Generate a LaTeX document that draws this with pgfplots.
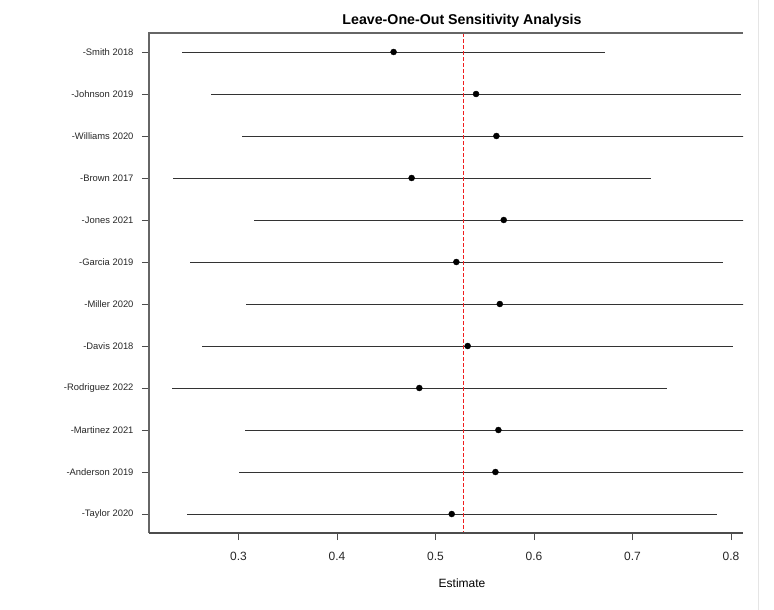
\documentclass[border=0pt]{standalone}
\usepackage{pgfplots}
\pgfplotsset{compat=1.18}
\usepackage{pgfplotstable}
\usepackage{fontspec}
\setmainfont{Liberation Sans}
\definecolor{refred}{RGB}{240,30,30}

\pgfplotstableread{
row est lo hi
1 0.4575 0.2425 0.6724
2 0.5412 0.2720 0.8104
3 0.5619 0.3035 0.8203
4 0.4758 0.2333 0.7184
5 0.5693 0.3160 0.8226
6 0.5212 0.2506 0.7923
7 0.5653 0.3075 0.8231
8 0.5327 0.2634 0.8021
9 0.4836 0.2326 0.7353
10 0.5639 0.3068 0.8210
11 0.5609 0.3004 0.8214
12 0.5165 0.2476 0.7855
}\loo

\begin{document}
\begin{tikzpicture}
\useasboundingbox (-149bp,-77bp) rectangle (625bp,533bp);
\begin{axis}[
  at={(0,0)}, anchor=south west,
  scale only axis, width=594bp, height=500bp,
  xmin=0.2092, xmax=0.8122, ymin=0.548, ymax=12.452, y dir=reverse,
  axis line style={draw=none},
  xtick={0.3,0.4,0.5,0.6,0.7,0.8},
  xticklabels={0.3,0.4,0.5,0.6,0.7,0.8},
  ytick={1,...,12},
  yticklabels={-Smith 2018,-Johnson 2019,-Williams 2020,-Brown 2017,-Jones 2021,-Garcia 2019,-Miller 2020,-Davis 2018,-Rodriguez 2022,-Martinez 2021,-Anderson 2019,-Taylor 2020},
  xtick pos=left, ytick pos=left,
  tick align=outside, major tick length=7bp,
  tick style={black!70, line width=0.8bp},
  xticklabel style={font=\fontsize{12bp}{14bp}\selectfont, text=black!85, yshift=-9bp},
  yticklabel style={font=\fontsize{9.4bp}{11bp}\selectfont, text=black!85, xshift=-5bp},
  /pgf/number format/assume math mode=true,
  title={Leave-One-Out Sensitivity Analysis},
  title style={font=\bfseries\fontsize{14.2bp}{16bp}\selectfont, at={(0.527,1)}, anchor=base, yshift=3bp},
  xlabel={Estimate},
  xlabel style={font=\fontsize{12bp}{14bp}\selectfont, at={(axis description cs:0.527,0)}, anchor=base, yshift=-54bp},
]
\addplot[only marks, mark=*, mark size=3bp, black,
  error bars/.cd, x dir=both, x explicit, error mark=none,
  error bar style={black!80, line width=0.9bp}]
  table[x=est, y=row, x error plus expr=\thisrow{hi}-\thisrow{est}, x error minus expr=\thisrow{est}-\thisrow{lo}] {\loo};
\addplot[refred, line width=1.1bp, dash pattern=on 3.5bp off 2.5bp, forget plot] coordinates {(0.5287,0.548) (0.5287,12.452)};
\end{axis}
\draw[black!60, line width=1.2bp] (0,0) -- (0,500bp) -- (594bp,500bp);
\draw[black!70, line width=1.2bp] (0,0) -- (594bp,0);
\draw[black!10, line width=1bp] (609bp,-77bp) -- (609bp,533bp);
\end{tikzpicture}
\end{document}
